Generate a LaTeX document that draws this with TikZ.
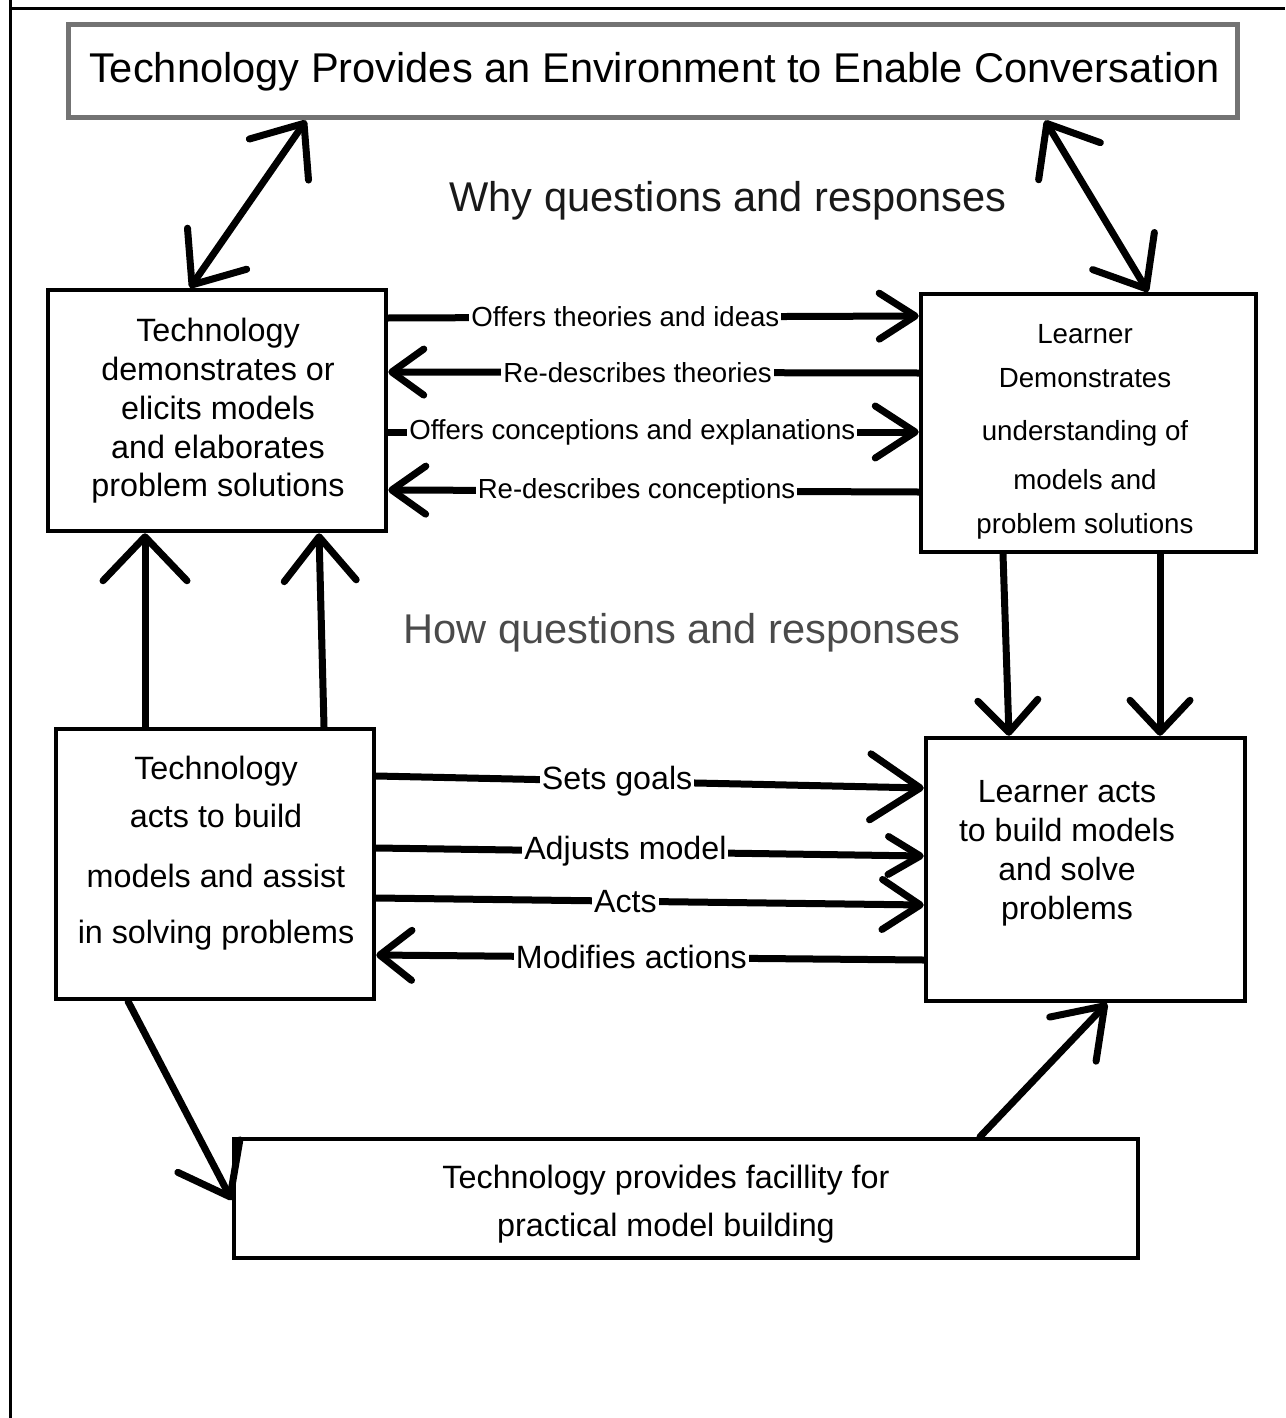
\documentclass[tikz,border=0pt]{standalone}
\usepackage{fontspec}
\setmainfont{Liberation Sans}
\usetikzlibrary{arrows.meta,calc}
\definecolor{topgray}{HTML}{737373}
\definecolor{howgray}{HTML}{4A4A4A}
\begin{document}
\begin{tikzpicture}[x=1pt,y=-1pt,
  box/.style={draw=black, line width=4.5pt, inner sep=0pt},
  conn/.style={line width=7pt, line cap=round, line join=round},
  hd/.style 2 args={-{Straight Barb[length=#1pt,width=#2pt,round]}},
  dhd/.style 2 args={{Straight Barb[length=#1pt,width=#2pt,round]}-{Straight Barb[length=#1pt,width=#2pt,round]}},
  lbls/.style={fill=white, inner xsep=2pt, inner ysep=0pt, font=\fontsize{27.6}{33}\selectfont},
  lblb/.style={fill=white, inner xsep=2pt, inner ysep=0pt, font=\fontsize{32.2}{38}\selectfont},
  txt/.style={align=center, inner sep=0pt}
]
\useasboundingbox (0,0) rectangle (1285,1418);
% frame
\draw[line width=3pt] (10,0) -- (10,1418);
\draw[line width=3pt] (10,8.5) -- (1285,8.5);

% boxes
\node[box, draw=topgray, line width=5pt, minimum width=1169pt, minimum height=93pt] (top) at (652.5,71.5) {};
\node[txt, font=\fontsize{41.6}{50}\selectfont] (toptext) at (654.5,72) {Technology Provides an Environment to Enable Conversation};

\node[box, minimum width=338pt, minimum height=241pt] (tl) at (217,410.5) {};
\node[txt, font=\fontsize{32.3}{38.7}\selectfont] (tltext) at (218,411) {Technology\\demonstrates or\\elicits models\\and elaborates\\problem solutions};

\node[box, minimum width=335pt, minimum height=258pt] (tr) at (1088.5,423) {};
\node[txt, font=\fontsize{27.7}{44}\selectfont] (trtext) at (1085,432) {Learner\\Demonstrates\\[9pt]understanding of\\[5pt]models and\\problem solutions};

\node[box, minimum width=318pt, minimum height=270pt] (bl) at (215,864) {};
\node[txt, font=\fontsize{32.3}{48}\selectfont] (bltext) at (216,853) {Technology\\acts to build\\[12pt]models and assist\\[8pt]in solving problems};

\node[box, minimum width=319pt, minimum height=263pt] (br) at (1085.5,869.5) {};
\node[txt, font=\fontsize{32.1}{39}\selectfont] (brtext) at (1067,853) {Learner acts\\to build models\\and solve\\problems};

\node[box, minimum width=904pt, minimum height=119pt] (bb) at (686,1198.5) {};
\node[txt, font=\fontsize{32.3}{48}\selectfont] (bbtext) at (666,1204) {Technology provides facillity for\\practical model building};

\node[txt, font=\fontsize{41.6}{50}\selectfont, text=black!90] (why) at (728,201) {Why questions and responses};
\node[txt, font=\fontsize{41.6}{50}\selectfont, text=howgray] (how) at (682,633) {How questions and responses};

% top double arrows
\draw[conn, dhd={44}{72}] (top.south -| 306,0) -- (tl.north -| 190,0);
\draw[conn, dhd={44}{72}] (top.south -| 1045,0) -- (tr.north -| 1148,0);

% TL <-> TR
\draw[conn, hd={36}{46}] (tl.east |- 0,318) -- node[lbls, pos=.447] {Offers theories and ideas} (tr.west |- 0,316);
\draw[conn, hd={32}{46}] (tr.west |- 0,373) -- node[lbls, pos=.53] {Re-describes theories} (tl.east |- 0,372);
\draw[conn, hd={40}{52}] (tl.east |- 0,432) -- node[lbls, pos=.46] {Offers conceptions and explanations} (tr.west |- 0,432);
\draw[conn, hd={34}{48}] (tr.west |- 0,492) -- node[lbls, pos=.532] {Re-describes conceptions} (tl.east |- 0,490);

% BL -> TL
\draw[conn, hd={44}{84}] (bl.north -| 145,0) -- (tl.south -| 145,0);
\draw[conn, hd={44}{72}] (bl.north -| 324,0) -- (tl.south -| 319,0);

% TR -> BR
\draw[conn, hd={32}{60}] (tr.south -| 1003,0) -- (br.north -| 1009,0);
\draw[conn, hd={32}{60}] (tr.south -| 1160,0) -- (br.north -| 1160,0);

% BL <-> BR
\draw[conn, hd={50}{66}] (bl.east |- 0,776) -- node[lblb, pos=.44] {Sets goals} (br.west |- 0,788);
\draw[conn, hd={32}{38}] (bl.east |- 0,848) -- node[lblb, pos=.455] {Adjusts model} (br.west |- 0,856);
\draw[conn, hd={38}{50}] (bl.east |- 0,898) -- node[lblb, pos=.455] {Acts} (br.west |- 0,905);
\draw[conn, hd={32}{50}] (br.west |- 0,960) -- node[lblb, pos=.534] {Modifies actions} (bl.east |- 0,955);

% diagonals
\draw[conn, hd={46}{70}] (bl.south -| 128,0) -- (bb.west |- 0,1200);
\draw[conn, hd={46}{64}] (bb.north -| 980,0) -- (br.south -| 1107,0);
\end{tikzpicture}
\end{document}
